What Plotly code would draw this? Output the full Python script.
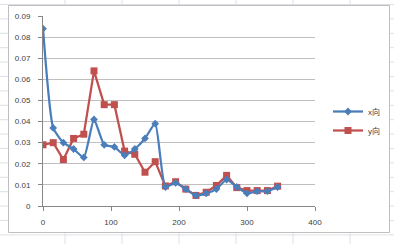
import plotly.graph_objects as go

# ---- data ----
positions = [0, 15, 30, 45, 60, 75, 90, 105, 120, 135, 150, 165,
             180, 195, 210, 225, 240, 255, 270, 285, 300, 315, 330, 345]
x_dir = [0.084, 0.037, 0.030, 0.027, 0.023, 0.041, 0.029, 0.028, 0.024, 0.027, 0.032, 0.039,
         0.009, 0.011, 0.008, 0.005, 0.006, 0.008, 0.0125, 0.009, 0.006, 0.007, 0.007, 0.009]
y_dir = [0.029, 0.030, 0.022, 0.032, 0.034, 0.064, 0.048, 0.048, 0.026, 0.0245, 0.016, 0.021,
         0.0095, 0.0115, 0.008, 0.005, 0.0065, 0.0097, 0.0145, 0.0087, 0.0073, 0.0073, 0.0073, 0.0094]
series_names = ["x向", "y向"]
x_ticks = [0, 100, 200, 300, 400]
y_ticks = [0, 0.01, 0.02, 0.03, 0.04, 0.05, 0.06, 0.07, 0.08, 0.09]
y_tick_text = ["0", "0.01", "0.02", "0.03", "0.04", "0.05", "0.06", "0.07", "0.08", "0.09"]

W, H = 394, 244
L, R, T, B = 43, 315, 16, 206  # plot area in pixels


def px(X):
    return (X - L) / (R - L)


def py(Y):
    return (B - Y) / (B - T)


fig = go.Figure()
fig.add_trace(go.Scatter(
    x=positions, y=y_dir, name=series_names[1], mode="lines+markers",
    line=dict(color="#C0504D", width=2.25),
    marker=dict(symbol="square", size=7, color="#C0504D"),
))
fig.add_trace(go.Scatter(
    x=positions, y=x_dir, name=series_names[0], mode="lines+markers",
    line=dict(color="#4A7EBB", width=2.25, shape="spline", smoothing=0.5),
    marker=dict(symbol="diamond", size=6, color="#4A7EBB"),
))

shapes = []
# spreadsheet grid behind the chart
grid_col = "#DCE0E6"
for X in [65, 122, 179, 236, 293, 350]:
    shapes.append(dict(type="line", xref="paper", yref="paper", x0=px(X), x1=px(X),
                       y0=py(0), y1=py(H), line=dict(color=grid_col, width=1), layer="below"))
Y = 4.5
while Y < H:
    shapes.append(dict(type="line", xref="paper", yref="paper", x0=px(0), x1=px(W),
                       y0=py(Y), y1=py(Y), line=dict(color=grid_col, width=1), layer="below"))
    Y += 14.4
# chart box
shapes.append(dict(type="rect", xref="paper", yref="paper", x0=px(8.5), x1=px(389.5),
                   y0=py(5.5), y1=py(232.5), fillcolor="white",
                   line=dict(color="#BFBFBF", width=1), layer="below"))

fig.update_layout(
    width=W, height=H,
    margin=dict(l=L, r=W - R, t=T, b=H - B, autoexpand=False),
    paper_bgcolor="white", plot_bgcolor="rgba(0,0,0,0)",
    shapes=shapes,
    showlegend=True,
    legend=dict(x=px(328), y=py(97), xanchor="left", yanchor="top",
                bgcolor="rgba(0,0,0,0)", font=dict(size=8, color="#404040",
                family="Liberation Sans, Noto Sans CJK SC"),
                itemwidth=30, tracegroupgap=0, traceorder="reversed"),
    font=dict(family="Liberation Sans, Arial", size=8, color="#404040"),
)
fig.update_xaxes(range=[0, 400], tickvals=x_ticks, showgrid=False, zeroline=False,
                 showline=True, linecolor="#868686", linewidth=1,
                 ticks="outside", ticklen=4, tickcolor="#868686",
                 tickfont=dict(size=8, color="#404040"), ticklabelstandoff=4)
fig.update_yaxes(range=[0, 0.09], tickvals=y_ticks, ticktext=y_tick_text,
                 showgrid=True, gridcolor="#BFBFBF", gridwidth=1, zeroline=False,
                 showline=True, linecolor="#868686", linewidth=1,
                 ticks="outside", ticklen=4, tickcolor="#868686",
                 tickfont=dict(size=8, color="#404040"), ticklabelstandoff=6)

fig.write_html("out.html")
